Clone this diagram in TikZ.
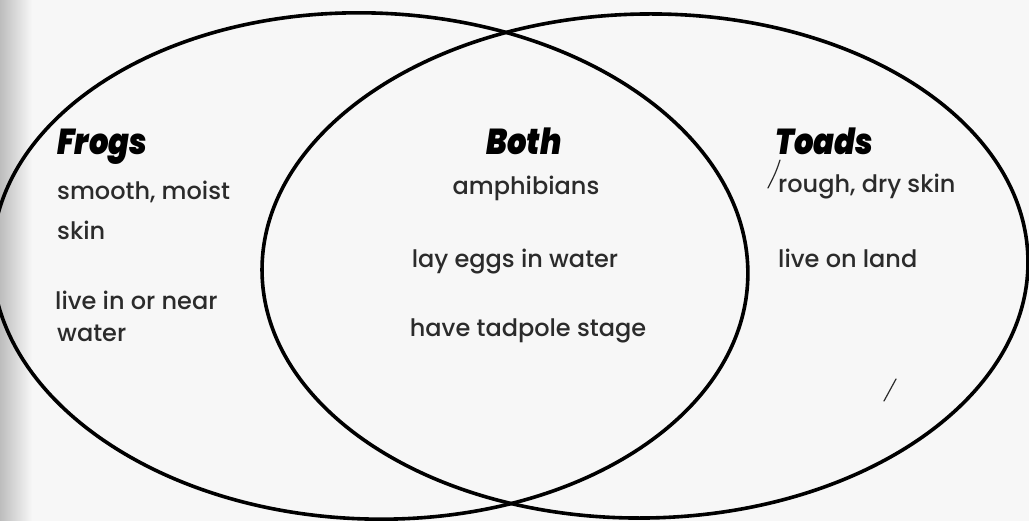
\documentclass[tikz,border=0pt]{standalone}
\usepackage{fontspec}
\setmainfont{Poppins}[UprightFont={* Medium}]
\newfontfamily\headfont{Poppins}[UprightFont={* Black Italic}]
\usetikzlibrary{shapes.geometric}
\definecolor{txt}{HTML}{2B2B2B}
\definecolor{edge}{HTML}{BDBDBD}
\definecolor{paper}{HTML}{F7F7F7}
\begin{document}
\begin{tikzpicture}[x=1pt,y=-1pt,
  set/.style={ellipse, draw=black, line width=3.6pt, inner sep=0pt},
  body/.style={anchor=base west, inner sep=0pt, text=txt, font=\fontsize{24}{28}\selectfont},
  bodyc/.style={body, anchor=base},
  head/.style={anchor=base west, inner sep=0pt, text=black, xscale=0.85, transform shape, font=\headfont\fontsize{36}{40}\selectfont},
  penmark/.style={draw=txt, line width=1.2pt, line cap=round}]
\useasboundingbox (0,0) rectangle (1029,521);
\fill[paper] (0,0) rectangle (1029,521);
\shade[left color=edge, right color=paper] (0,0) rectangle (32,521);
\node[set, minimum width=756pt, minimum height=506pt, rotate=-2] (frogset) at (370,266) {};
\node[set, minimum width=766pt, minimum height=504pt, rotate=1] (toadset) at (645,266) {};
% headings
\node[head] (frogs) at (57,155) {Frogs};
\node[head, anchor=base] (both) at (524,155) {Both};
\node[head] (toads) at (775,155) {Toads};
% frogs
\node[body] (f1) at (57,200) {smooth, moist};
\node[body] (f2) at (57,240) {skin};
\node[body] (f3) at (55,310) {live in or near};
\node[body] (f4) at (57,342) {water};
% both
\node[bodyc] (b1) at (526,195) {amphibians};
\node[bodyc] (b2) at (515,268) {lay eggs in water};
\node[bodyc] (b3) at (528,337) {have tadpole stage};
% toads
\node[body] (t1) at (778,193) {rough, dry skin};
\node[body] (t2) at (778,268) {live on land};
% stray pen marks
\coordinate (m1) at (780,160);
\coordinate (m2) at (768,188);
\coordinate (m3) at (896,379);
\coordinate (m4) at (884,401);
\draw[penmark] (m1) .. controls (776,172) .. (m2);
\draw[penmark] (m3) -- (m4);
\end{tikzpicture}
\end{document}
